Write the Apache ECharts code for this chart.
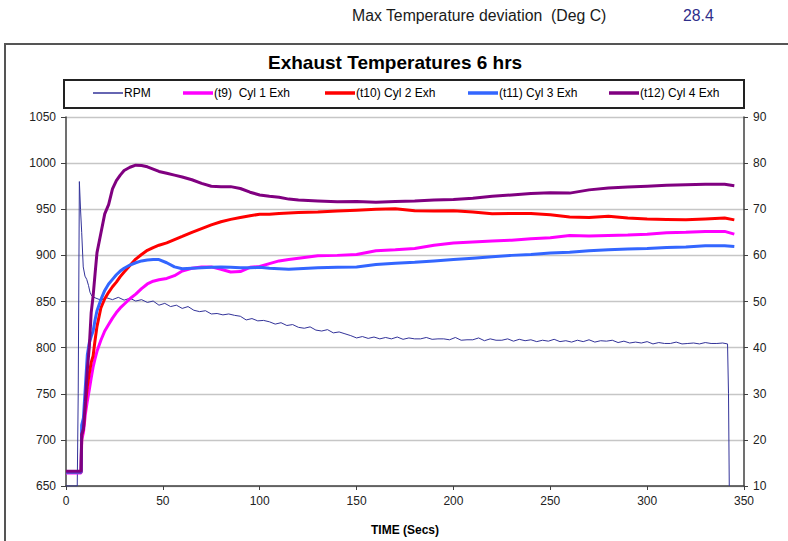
<!DOCTYPE html>
<html>
<head>
<meta charset="utf-8">
<script src="https://cdn.jsdelivr.net/npm/echarts@6/dist/echarts.min.js"></script>
<style>
  html, body { margin: 0; padding: 0; background: #ffffff; }
  #chart { width: 788px; height: 541px; }
</style>
</head>
<body>
<div id="chart"></div>
<script>
// Sample times (s) shared by the four exhaust thermocouples
const tempTime = [0, 7.8, 8.1, 9, 10, 11, 12, 13, 14, 15, 16, 18, 20, 22, 24, 26, 28, 30,
  33, 36, 39, 42, 45, 48, 52, 56, 60, 65, 70, 75, 80, 85, 90, 95, 100, 105, 110, 115, 120,
  130, 140, 150, 160, 170, 180, 190, 200, 210, 220, 230, 240, 250, 260, 270, 280, 290, 300,
  310, 320, 330, 340, 345];

// Exhaust temperatures (Deg C)
const cyl1 = [664, 664, 700, 708, 728, 742, 754, 767, 779, 788, 796, 808, 818, 825, 832, 838, 843, 847,
  853, 858, 864, 869, 872, 873.5, 875, 878, 883, 886, 887.5, 887.5, 885, 882, 882.5, 887, 888, 891, 894, 895.5, 897,
  899.5, 900, 901, 905, 906, 907.5, 911, 913.5, 914.5, 915.5, 916.5, 918, 919, 921.5, 921, 921.5, 922, 923,
  924.5, 925, 926, 926, 923];
const cyl2 = [665, 665, 705, 712, 738, 758, 772, 784, 791, 808, 823, 843, 853, 860, 866, 871, 877, 882,
  889, 896, 901, 905.5, 908.5, 911, 913.5, 917, 920.5, 925, 929, 933, 936.5, 939, 941, 943, 944.5, 944.5, 945.5, 946, 946.5,
  947, 948, 949, 950, 950.5, 948.5, 948, 948.5, 947, 945, 945.5, 945.5, 944, 941.5, 941, 942.5, 940.5, 939.5,
  939, 938.5, 939.5, 940.5, 938.5];
const cyl3 = [665, 665, 716, 724, 758, 792, 805, 812, 818, 830, 840, 852, 862, 869, 874, 879, 883, 886,
  889.5, 892, 894, 895, 895.5, 895.5, 892, 887.5, 885.5, 886, 886.5, 887, 887.5, 887, 886.5, 886.5, 887, 886, 885.5, 885, 885.5,
  886.5, 887, 887.5, 890, 891.5, 892.5, 894, 895.5, 897, 898.5, 900, 901, 902.5, 903.5, 905, 906, 907, 907.5,
  908.5, 909, 910.5, 910.5, 909.5];
const cyl4 = [666, 666, 706, 712, 742, 776, 800, 838, 856, 880, 903, 924, 945, 955, 972, 981, 987, 992,
  995.5, 997.8, 997.5, 996, 993.5, 991, 989, 987, 985, 982, 978, 975, 974.5, 974.5, 972.5, 968.5, 965.5, 964, 963, 961, 960,
  959, 958, 958.5, 957.5, 958.5, 959, 960, 960.5, 962, 964, 965.5, 967, 968, 967.5, 971, 973, 974, 975,
  976, 976.5, 977, 977, 975.5];

// Engine speed trace (right axis)
const rpmTime = [0, 5.8, 6.3, 6.9, 7.5, 8.1, 8.9, 9.8, 10.7, 11.6, 12.4, 13.3, 15, 18, 21, 24, 27, 30,
  33, 36, 39, 42, 45, 48, 51, 54, 57, 60, 63, 66, 69, 72, 75, 78, 81, 84, 87, 90, 93, 96, 99, 102,
  105, 108, 111, 114, 117, 120, 123, 126, 129, 132, 135, 138, 141, 144, 147, 150, 153, 156, 159, 162,
  165, 168, 171, 174, 177, 180, 183, 186, 189, 192, 195, 198, 201, 204, 207, 210, 213, 216, 219, 222,
  225, 228, 231, 234, 237, 240, 243, 246, 249, 252, 255, 258, 261, 264, 267, 270, 273, 276, 279, 282,
  285, 288, 291, 294, 297, 300, 303, 306, 309, 312, 315, 318, 321, 324, 327, 330, 333, 336, 339, 341.5,
  342, 342.4];
const rpm = [10, 10, 30, 76, 70, 65, 57.5, 55.5, 54.8, 53.5, 52, 51.2, 50.8, 50.3, 50.8, 50.4, 50.9, 50.3,
  50.7, 50.1, 50.4, 49.8, 50.1, 49.2, 49.6, 48.9, 49.2, 48.5, 48.9, 48.1, 47.8, 48.0, 47.3, 47.4, 47.1, 47.3, 47.0, 46.8, 46.0, 46.3, 45.8, 45.9,
  45.6, 45.1, 45.4, 44.8, 45.0, 44.4, 44.2, 44.5, 43.8, 43.6, 43.9, 43.2, 43.4, 43.0, 42.6, 42.1, 42.4, 42.0, 42.3, 41.9,
  42.2, 41.9, 42.3, 41.8, 42.1, 41.9, 41.9, 42.2, 41.8, 41.9, 41.9, 41.7, 42.2, 41.6, 41.7, 41.7, 42.1, 41.5, 41.9, 41.6,
  41.6, 41.9, 41.4, 41.8, 41.5, 41.7, 41.3, 41.6, 41.4, 41.8, 41.3, 41.5, 41.2, 41.6, 41.3, 41.7, 41.2, 41.5, 41.4, 41.6,
  41.1, 41.4, 41.0, 41.2, 41.0, 41.3, 40.8, 41.1, 40.9, 40.9, 41.2, 40.8, 40.9, 41.0, 40.8, 41.1, 40.9, 40.9, 41.0, 40.8,
  30, 10];

// Axis ticks
const timeTicks = { min: 0, max: 350, step: 50 };
const tempTicks = { min: 650, max: 1050, step: 50 };
const rpmTicks = { min: 10, max: 90, step: 10 };

const seriesNames = ['RPM', '(t9)  Cyl 1 Exh', '(t10) Cyl 2 Exh', '(t11) Cyl 3 Exh', '(t12) Cyl 4 Exh'];
const seriesColors = ['#333399', '#ff00ff', '#ff0000', '#3366ff', '#800080'];

const maxDeviationLabel = 'Max Temperature deviation  (Deg C)';
const maxDeviationValue = '28.4';

const pairs = (xs, ys) => xs.map((x, i) => [x, ys[i]]);
const plainNumber = v => String(v);

const font = '"Liberation Sans", Arial, sans-serif';
const axisColor = '#404040';

const chart = echarts.init(document.getElementById('chart'), null, { renderer: 'svg' });

const legendLefts = [93, 183, 325, 468, 609];
const legends = seriesNames.map((name, i) => ({
  data: [name],
  left: legendLefts[i],
  top: 87,
  padding: 0,
  icon: 'rect',
  itemWidth: 30,
  itemHeight: i === 0 ? 1.5 : 3.5,
  itemGap: 0,
  selectedMode: false,
  textStyle: { fontFamily: font, fontSize: 12, color: '#000', padding: [0, 0, 0, -4] }
}));

const tempLine = (idx, values) => ({
  name: seriesNames[idx],
  type: 'line',
  yAxisIndex: 0,
  data: pairs(tempTime, values),
  showSymbol: false,
  symbol: 'none',
  lineStyle: { width: 3, color: seriesColors[idx] },
  itemStyle: { color: seriesColors[idx] },
  animation: false,
  z: 2 + idx
});

chart.setOption({
  backgroundColor: '#ffffff',
  animation: false,
  color: seriesColors,
  title: {
    text: 'Exhaust Temperatures 6 hrs',
    left: 268,
    top: 53,
    padding: 0,
    textStyle: { fontFamily: font, fontSize: 19, fontWeight: 'bold', color: '#000' }
  },
  legend: legends,
  grid: { left: 66, right: 44, top: 117, bottom: 54, containLabel: false },
  xAxis: {
    type: 'value',
    min: timeTicks.min,
    max: timeTicks.max,
    interval: timeTicks.step,
    name: 'TIME (Secs)',
    nameLocation: 'middle',
    nameGap: 38,
    nameTextStyle: { fontFamily: font, fontSize: 12, fontWeight: 'bold', color: '#000' },
    axisLine: { show: true, lineStyle: { color: axisColor, width: 1.5 } },
    axisTick: { show: true, inside: false, length: 4, lineStyle: { color: axisColor } },
    axisLabel: { fontFamily: font, fontSize: 12, color: '#222', margin: 9, formatter: plainNumber },
    splitLine: { show: false }
  },
  yAxis: [
    {
      type: 'value',
      position: 'left',
      min: tempTicks.min,
      max: tempTicks.max,
      interval: tempTicks.step,
      axisLine: { show: true, lineStyle: { color: axisColor, width: 1.5 } },
      axisTick: { show: true, inside: false, length: 5, lineStyle: { color: axisColor } },
      axisLabel: { fontFamily: font, fontSize: 12, color: '#222', margin: 10, formatter: plainNumber },
      splitLine: { show: true, lineStyle: { color: '#c6c6c6', width: 1.3 } }
    },
    {
      type: 'value',
      position: 'right',
      min: rpmTicks.min,
      max: rpmTicks.max,
      interval: rpmTicks.step,
      axisLine: { show: true, lineStyle: { color: axisColor, width: 1.5 } },
      axisTick: { show: true, inside: false, length: 4, lineStyle: { color: axisColor } },
      axisLabel: { fontFamily: font, fontSize: 12, color: '#222', margin: 9, formatter: plainNumber },
      splitLine: { show: false }
    }
  ],
  series: [
    {
      name: seriesNames[0],
      type: 'line',
      yAxisIndex: 1,
      data: pairs(rpmTime, rpm),
      showSymbol: false,
      symbol: 'none',
      lineStyle: { width: 1, color: seriesColors[0] },
      itemStyle: { color: seriesColors[0] },
      z: 1
    },
    tempLine(1, cyl1),
    tempLine(2, cyl2),
    tempLine(3, cyl3),
    tempLine(4, cyl4)
  ],
  graphic: [
    {
      type: 'rect',
      silent: true,
      shape: { x: 5, y: 44, width: 800, height: 520 },
      style: { fill: 'none', stroke: '#555555', lineWidth: 2 },
      z: -1
    },
    {
      type: 'rect',
      silent: true,
      shape: { x: 64, y: 80, width: 680, height: 28 },
      style: { fill: 'none', stroke: '#222222', lineWidth: 2 },
      z: -1
    },
    {
      type: 'text',
      silent: true,
      x: 352,
      y: 15,
      style: {
        text: maxDeviationLabel,
        fontFamily: font, fontSize: 15.8, fill: '#1a1a1a',
        textVerticalAlign: 'middle'
      }
    },
    {
      type: 'text',
      silent: true,
      x: 683,
      y: 15,
      style: {
        text: maxDeviationValue,
        fontFamily: font, fontSize: 15.8, fill: '#2e2e8a',
        textVerticalAlign: 'middle'
      }
    }
  ]
});
</script>
</body>
</html>
